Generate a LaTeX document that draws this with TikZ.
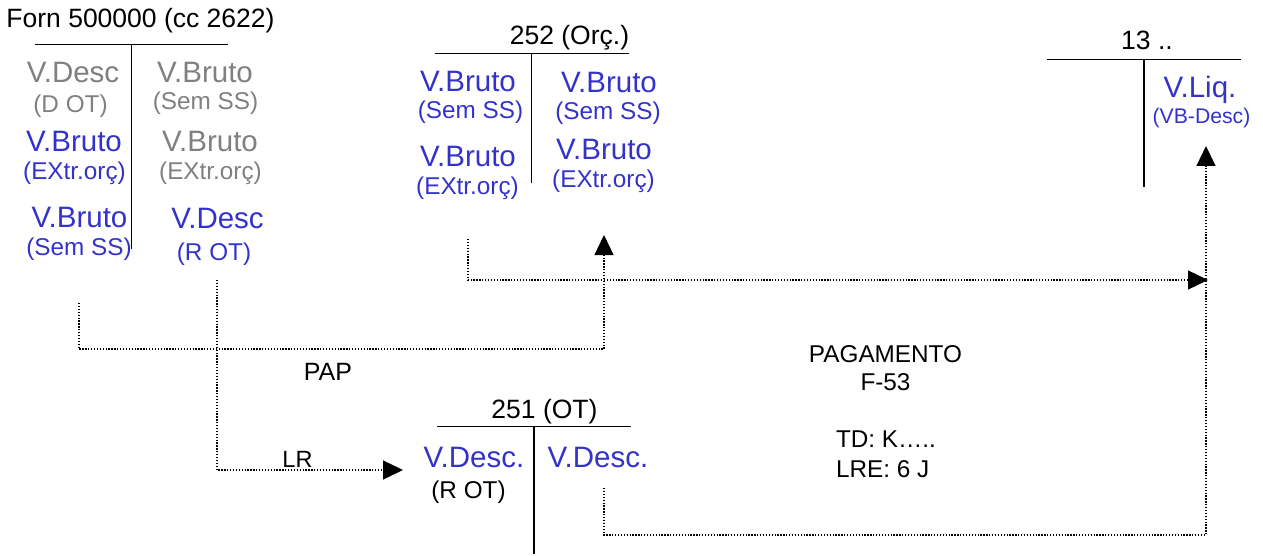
\documentclass[tikz,border=0pt]{standalone}
\usepackage{fontspec}
\setmainfont{Liberation Sans}
\usetikzlibrary{arrows.meta}
\definecolor{blu}{RGB}{51,51,204}
\definecolor{gry}{RGB}{128,128,128}
\tikzset{
  lbl/.style={anchor=base,inner sep=0pt,outer sep=0pt},
  big/.style={lbl,font=\fontsize{29.5}{31}\selectfont},
  sml/.style={lbl,font=\fontsize{24.3}{26}\selectfont},
  ttl/.style={lbl,font=\fontsize{26.5}{28}\selectfont},
  txt/.style={lbl,font=\fontsize{24.3}{26}\selectfont},
  tline/.style={line width=1.5pt,black},
  conn/.style={line width=1.3pt,dash pattern=on 1.3pt off 1.6pt,-{Triangle[width=19pt,length=20pt]}},
}
\begin{document}
\begin{tikzpicture}[x=1pt,y=-1pt]
\useasboundingbox (0,0) rectangle (1263,556);
% ---------- Forn account ----------
\node[ttl] (forn) at (140.5,27.3) {Forn 500000 (cc 2622)};
\coordinate (fornL) at (35,44.5);
\coordinate (fornR) at (228,44.5);
\coordinate (fornT) at (131.7,44.5);
\coordinate (fornB) at (131.7,249);
\draw[tline] (fornL) -- (fornR);
\draw[tline] (fornT) -- (fornB);
\node[big,text=gry] (f1) at (73,83) {V.Desc};
\node[sml,text=gry] (f2) at (70.5,113) {(D OT)};
\node[big,text=blu] (f3) at (74,152) {V.Bruto};
\node[sml,text=blu] (f4) at (74.5,180) {(EXtr.orç)};
\node[big,text=blu] (f5) at (79.5,227) {V.Bruto};
\node[sml,text=blu] (f6) at (79,255) {(Sem SS)};
\node[big,text=gry] (g1) at (205,83) {V.Bruto};
\node[sml,text=gry] (g2) at (205.5,110) {(Sem SS)};
\node[big,text=gry] (g3) at (210,152) {V.Bruto};
\node[sml,text=gry] (g4) at (210.5,180) {(EXtr.orç)};
\node[big,text=blu] (g5) at (217.5,228) {V.Desc};
\node[sml,text=blu] (g6) at (214,260) {(R OT)};
% ---------- 252 account ----------
\node[ttl] (orc) at (569.5,45) {252 (Orç.)};
\coordinate (orcL) at (435,53.3);
\coordinate (orcR) at (629,53.3);
\coordinate (orcT) at (531.7,53.3);
\coordinate (orcB) at (531.7,182.7);
\draw[tline] (orcL) -- (orcR);
\draw[tline] (orcT) -- (orcB);
\node[big,text=blu] (o1) at (468,92) {V.Bruto};
\node[sml,text=blu] (o2) at (470.5,119) {(Sem SS)};
\node[big,text=blu] (o3) at (468,167) {V.Bruto};
\node[sml,text=blu] (o4) at (467.5,195) {(EXtr.orç)};
\node[big,text=blu] (p1) at (609,93) {V.Bruto};
\node[sml,text=blu] (p2) at (608,120) {(Sem SS)};
\node[big,text=blu] (p3) at (604,160) {V.Bruto};
\node[sml,text=blu] (p4) at (603.5,188) {(EXtr.orç)};
% ---------- 13 account ----------
\node[ttl] (tr) at (1147,50) {13 ..};
\coordinate (trL) at (1047,59.3);
\coordinate (trR) at (1241,59.3);
\coordinate (trT) at (1144,59.3);
\coordinate (trB) at (1144,187);
\draw[tline] (trL) -- (trR);
\draw[tline] (trT) -- (trB);
\node[big,text=blu] (liq) at (1200,98) {V.Liq.};
\node[lbl,text=blu,font=\fontsize{21.2}{23}\selectfont] (vbd) at (1201.5,124) {(VB-Desc)};
% ---------- 251 account ----------
\node[ttl] (ot) at (544.5,418) {251 (OT)};
\coordinate (otL) at (437,426.7);
\coordinate (otR) at (631,426.7);
\coordinate (otT) at (534,426.7);
\coordinate (otB) at (534,554);
\draw[tline] (otL) -- (otR);
\draw[tline] (otT) -- (otB);
\node[big,text=blu] (d1) at (474,467) {V.Desc.};
\node[big,text=blu] (d2) at (598,467) {V.Desc.};
\node[sml] (d3) at (468.5,498) {(R OT)};
% ---------- labels ----------
\node[lbl,font=\fontsize{25}{27}\selectfont] (pap) at (328,380.7) {PAP};
\node[lbl,font=\fontsize{23.5}{25}\selectfont] (lr) at (297.5,467) {LR};
\node[txt] (pag) at (885.5,362) {PAGAMENTO};
\node[txt] (f53) at (885.5,390) {F-53};
\node[txt,anchor=base west] (td) at (836,447) {TD: K…..};
\node[txt,anchor=base west] (lre) at (836,477) {LRE: 6 J};
% ---------- connectors ----------
\coordinate (c1s) at (79,303);
\coordinate (c1a) at (79,349);
\coordinate (c1b) at (604,349);
\coordinate (c1e) at (604,235);
\draw[conn] (c1s) -- (c1a) -- (c1b) -- (c1e);
\coordinate (c2s) at (217,280);
\coordinate (c2a) at (217,470);
\coordinate (c2e) at (403,470);
\draw[conn] (c2s) -- (c2a) -- (c2e);
\coordinate (c3s) at (468,239);
\coordinate (c3a) at (468,280);
\coordinate (c3e) at (1208,280);
\draw[conn] (c3s) -- (c3a) -- (c3e);
\coordinate (c4s) at (604,488);
\coordinate (c4a) at (604,535);
\coordinate (c4b) at (1206,535);
\coordinate (c4e) at (1206,146);
\draw[conn] (c4s) -- (c4a) -- (c4b) -- (c4e);
\end{tikzpicture}
\end{document}
